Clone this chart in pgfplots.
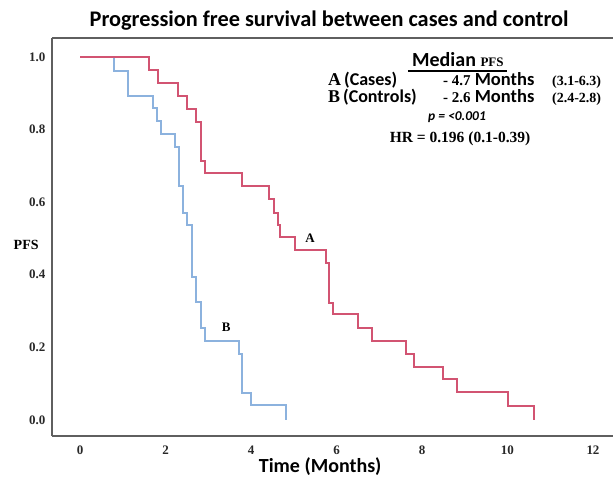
\documentclass[border=0pt]{standalone}
\usepackage{pgfplots}
\pgfplotsset{compat=1.18}
\usepackage{fontspec}
\setmainfont{Liberation Serif}
\newfontfamily\calib{Carlito}

\definecolor{casecolor}{RGB}{210,84,114}
\definecolor{ctrlcolor}{RGB}{140,178,222}
\definecolor{framecolor}{RGB}{95,95,95}
\definecolor{labelcolor}{RGB}{40,40,40}

\begin{document}
\begin{tikzpicture}
\path[use as bounding box] (0pt,0pt) rectangle (613pt,480pt);
\begin{axis}[
    at={(52pt,44pt)}, anchor=south west,
    scale only axis, width=561pt, height=398pt,
    xmin=-0.655, xmax=12.468, ymin=-0.044, ymax=1.052,
    axis x line*=bottom, axis y line*=left,
    axis line style={framecolor, line width=1.6pt, -},
    xtick={0,2,...,12}, ytick={0,0.2,0.4,0.6,0.8,1.0},
    major tick style={draw=none}, major tick length=0pt,
    /pgf/number format/assume math mode=true,
    tick label style={font=\fontsize{13}{13}\selectfont\bfseries, color=labelcolor},
    xticklabel style={yshift=-6pt},
    yticklabel style={xshift=-3pt, /pgf/number format/.cd, fixed, fixed zerofill, precision=1},
    title={Progression free survival between cases and control},
    every axis title/.style={at={(rel axis cs:0.494,1.045)}, anchor=center,
      font=\calib\bfseries\fontsize{22.3}{22.3}\selectfont},
    xlabel={Time (Months)},
    every axis x label/.style={at={(rel axis cs:0.478,-0.078)}, anchor=center,
      font=\calib\bfseries\fontsize{20}{20}\selectfont},
    ylabel={PFS},
    every axis y label/.style={at={(rel axis cs:-0.046,0.48)}, anchor=center,
      font=\bfseries\fontsize{14}{14}\selectfont},
]

% B (controls)
\addplot[const plot, no marks, ctrlcolor, line width=2pt] coordinates {
 (0,1) (0.80,0.962) (1.13,0.893) (1.70,0.859) (1.81,0.824) (1.89,0.787)
 (2.22,0.751) (2.32,0.645) (2.42,0.571) (2.51,0.537) (2.61,0.395) (2.71,0.326)
 (2.82,0.253) (2.92,0.218) (3.73,0.182) (3.80,0.075) (4.01,0.041) (4.83,0.0)
};

% A (cases)
\addplot[const plot, no marks, casecolor, line width=2pt] coordinates {
 (0,1) (1.61,0.964) (1.82,0.929) (2.30,0.893) (2.51,0.857) (2.71,0.822)
 (2.82,0.714) (2.92,0.681) (3.80,0.645) (4.42,0.608) (4.54,0.571) (4.62,0.537)
 (4.69,0.503) (5.03,0.468) (5.75,0.433) (5.82,0.323) (5.91,0.292) (6.51,0.254)
 (6.82,0.218) (7.62,0.182) (7.82,0.147) (8.50,0.112) (8.83,0.076) (10.02,0.039)
 (10.63,0.0)
};

\draw[framecolor, line width=1.6pt] (rel axis cs:0,1) -- (rel axis cs:1,1);

\node[font=\bfseries\fontsize{13}{13}\selectfont] at (axis cs:5.38,0.501) {A};
\node[font=\bfseries\fontsize{13}{13}\selectfont] at (axis cs:3.42,0.256) {B};

% median PFS box
\node[font=\calib\bfseries\fontsize{20}{20}\selectfont] at (axis cs:8.84,0.992)
  {Median {\rmfamily\fontsize{13}{13}\selectfont PFS}};
\draw[black, line width=1.5pt] (axis cs:7.67,0.961) -- (axis cs:9.99,0.961);

\node[anchor=base west, inner sep=0pt, font=\calib\bfseries\fontsize{18}{18}\selectfont]
  at (axis cs:5.80,0.920) {{\rmfamily A}\,(Cases)};
\node[anchor=base west, inner sep=0pt, font=\calib\bfseries\fontsize{18.5}{18.5}\selectfont]
  at (axis cs:8.49,0.920) {{\rmfamily\fontsize{15}{15}\selectfont - 4.7} Months};
\node[anchor=base west, inner sep=0pt, font=\bfseries\fontsize{14}{14}\selectfont]
  at (axis cs:11.04,0.920) {(3.1-6.3)};

\node[anchor=base west, inner sep=0pt, font=\calib\bfseries\fontsize{18}{18}\selectfont]
  at (axis cs:5.80,0.873) {{\rmfamily B}\,(Controls)};
\node[anchor=base west, inner sep=0pt, font=\calib\bfseries\fontsize{18.5}{18.5}\selectfont]
  at (axis cs:8.49,0.873) {{\rmfamily\fontsize{15}{15}\selectfont - 2.6} Months};
\node[anchor=base west, inner sep=0pt, font=\bfseries\fontsize{14}{14}\selectfont]
  at (axis cs:11.04,0.873) {(2.4-2.8)};

\node[font=\calib\bfseries\itshape\fontsize{13.5}{13.5}\selectfont] at (axis cs:8.82,0.835)
  {p = <0.001};
\node[font=\bfseries\fontsize{15.5}{15.5}\selectfont] at (axis cs:8.89,0.774)
  {HR = 0.196 (0.1-0.39)};

\end{axis}
\end{tikzpicture}
\end{document}
